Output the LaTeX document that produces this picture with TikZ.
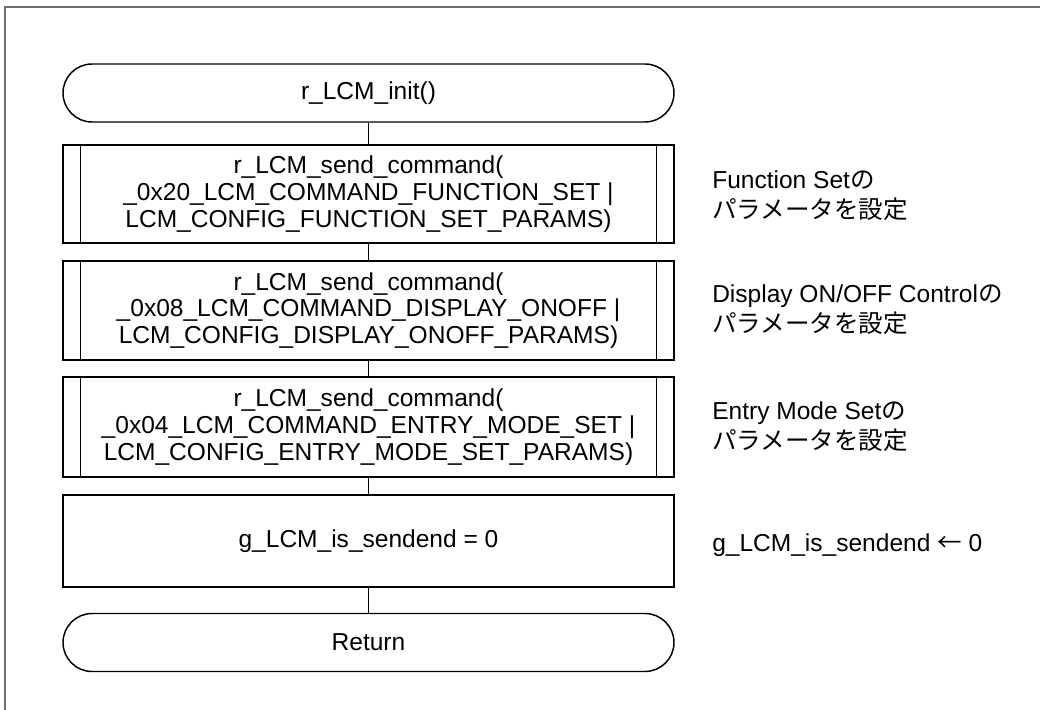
\documentclass[tikz,border=0pt]{standalone}
\usepackage{fontspec}
\setmainfont{Liberation Sans}
\newfontfamily\jp{Noto Sans CJK JP}
\begin{document}
\begin{tikzpicture}[x=0.75pt,y=-0.75pt,
  every node/.style={font=\fontsize{18.4}{20}\selectfont},
  lnk/.style={draw=black,line width=1.1pt},
  term/.style={draw=black,line width=1.1pt,rectangle,rounded corners=21.75pt,minimum width=458.25pt,minimum height=43.5pt,inner sep=0pt,align=center},
  proc/.style={draw=black,line width=1.1pt,rectangle,minimum width=458.25pt,inner sep=0pt,align=center},
  note/.style={anchor=west,align=left,inner sep=0pt,font=\fontsize{18.4}{22.5}\selectfont},
  frameline/.style={draw={rgb,255:red,112;green,112;blue,112},line width=1.4pt}]
\useasboundingbox (0,0) rectangle (1040,710);
\coordinate (fA) at (5,1040);
\coordinate (fB) at (5,7);
\coordinate (fC) at (1040,7);
\draw[frameline] (5,710) -- (fB) -- (fC);
\node[term] (t1) at (368.5,93) {r\_LCM\_init()};
\node[proc,minimum height=73.5pt] (b1) at (368.5,194) {r\_LCM\_send\_command(\\\_0x20\_LCM\_COMMAND\_FUNCTION\_SET |\\LCM\_CONFIG\_FUNCTION\_SET\_PARAMS)};
\node[proc,minimum height=74.25pt] (b2) at (368.5,310.5) {r\_LCM\_send\_command(\\\_0x08\_LCM\_COMMAND\_DISPLAY\_ONOFF |\\LCM\_CONFIG\_DISPLAY\_ONOFF\_PARAMS)};
\node[proc,minimum height=75pt] (b3) at (368.5,427) {r\_LCM\_send\_command(\\\_0x04\_LCM\_COMMAND\_ENTRY\_MODE\_SET |\\LCM\_CONFIG\_ENTRY\_MODE\_SET\_PARAMS)};
\node[proc,minimum height=69pt] (b4) at (368.5,541) {g\_LCM\_is\_sendend = 0};
\node[term] (t2) at (368.5,642.5) {Return};
\foreach \b in {b1,b2,b3}{
  \draw[lnk] ([xshift=13.5pt]\b.north west) -- ([xshift=13.5pt]\b.south west);
  \draw[lnk] ([xshift=-13.5pt]\b.north east) -- ([xshift=-13.5pt]\b.south east);
}
\draw[lnk] (t1) -- (b1);
\draw[lnk] (b1) -- (b2);
\draw[lnk] (b2) -- (b3);
\draw[lnk] (b3) -- (b4);
\draw[lnk] (b4) -- (t2);
\node[note] (n1) at (712,196) {Function Set{\jp の}\\{\jp パラメータを設定}};
\node[note] (n2) at (712,310) {Display ON/OFF Control{\jp の}\\{\jp パラメータを設定}};
\node[note] (n3) at (712,427) {Entry Mode Set{\jp の}\\{\jp パラメータを設定}};
\node[note] (n4) at (712,545) {g\_LCM\_is\_sendend {\jp ←} 0};
\end{tikzpicture}
\end{document}
